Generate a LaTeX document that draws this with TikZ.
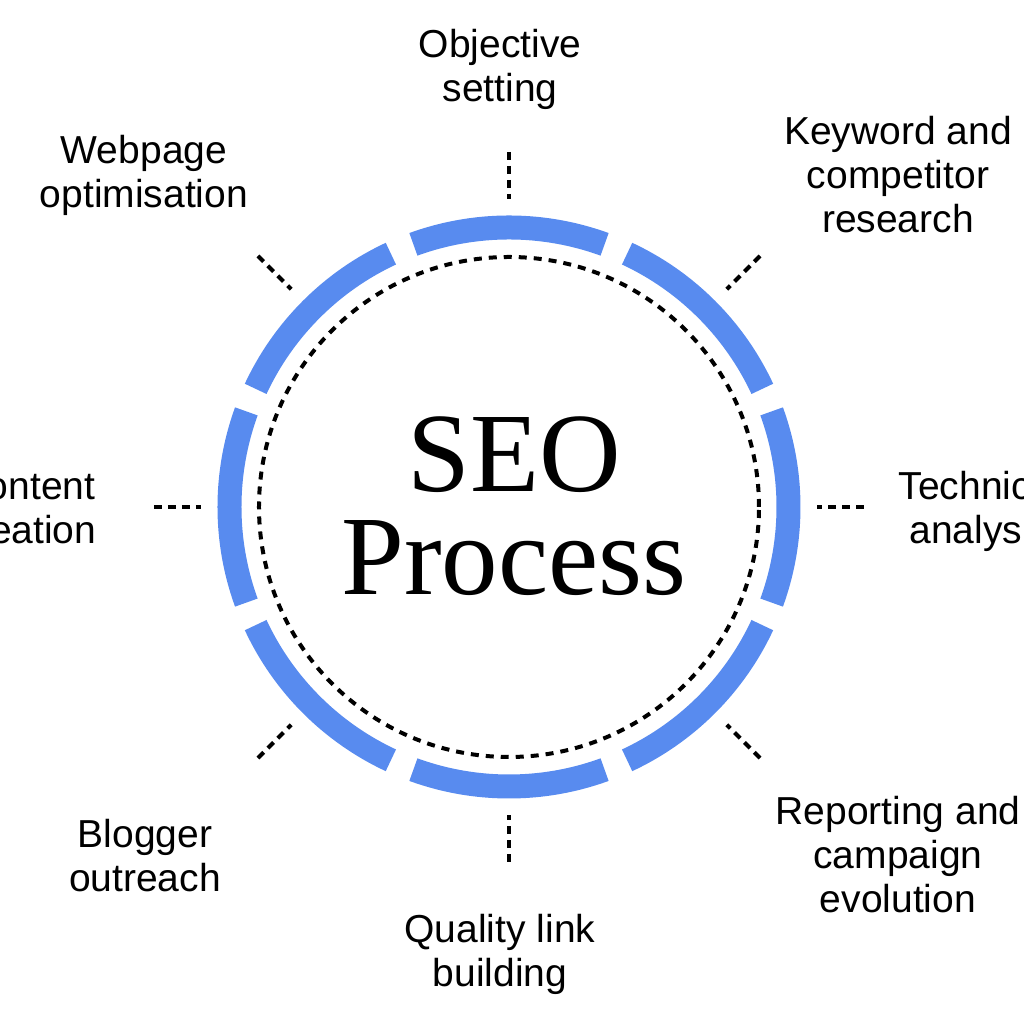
\documentclass[tikz,border=0pt]{standalone}
\usepackage{fontspec}
\setmainfont{Liberation Sans}
\newfontfamily\seofont{Liberation Serif}
\usepackage{tikz}
\usetikzlibrary{calc}
\usetikzlibrary{positioning}
\definecolor{seoblue}{RGB}{88,139,239}
\tikzset{>=latex}
\tikzstyle{seg} = [draw=seoblue, line width=12pt, line cap=butt]
\tikzstyle{tick} = [-, draw=black, line width=2pt, dash pattern=on 4pt off 3pt]
\tikzstyle{ring} = [-, draw=black, line width=2pt, dash pattern=on 4pt off 3.5pt]
\tikzstyle{lbl} = [draw=none, inner sep=0, align=center, anchor=base, font=\fontsize{19.5}{22}\selectfont]

\begin{document}
\begin{tikzpicture}[x=0.5pt, y=0.5pt]
\useasboundingbox (-509,-513) rectangle (515,507);
%\draw [help lines] (-509,-513) rectangle (515,507);
\coordinate (c) at (0,0);
\draw [ring] (c) circle [radius=250];
\draw [seg] (70:279.5) arc [start angle=70, end angle=110, radius=279.5];
\draw [seg] (25:279.5) arc [start angle=25, end angle=65, radius=279.5];
\draw [seg] (-20:279.5) arc [start angle=-20, end angle=20, radius=279.5];
\draw [seg] (-65:279.5) arc [start angle=-65, end angle=-25, radius=279.5];
\draw [seg] (-110:279.5) arc [start angle=-110, end angle=-70, radius=279.5];
\draw [seg] (-155:279.5) arc [start angle=-155, end angle=-115, radius=279.5];
\draw [seg] (160:279.5) arc [start angle=160, end angle=200, radius=279.5];
\draw [seg] (115:279.5) arc [start angle=115, end angle=155, radius=279.5];
\node [draw=none, inner sep=0, align=center, anchor=base, font=\seofont\fontsize{56.5}{51.5}\selectfont] (seo) at (5,-88) {SEO\\Process};
\draw [tick] (90:355) -- (90:308);
\draw [tick] (45:355) -- (45:308);
\draw [tick] (0:355) -- (0:308);
\draw [tick] (-45:355) -- (-45:308);
\draw [tick] (-90:355) -- (-90:308);
\draw [tick] (-135:355) -- (-135:308);
\draw [tick] (180:355) -- (180:308);
\draw [tick] (135:355) -- (135:308);
\node [lbl] (obj) at (-9,405) {Objective\\setting};
\node [lbl] (kwd) at (389,274) {Keyword and\\competitor\\research};
\node [lbl] (tech) at (471,-37) {Technical\\analysis};
\node [lbl] (rep) at (389,-406) {Reporting and\\campaign\\evolution};
\node [lbl] (link) at (-9,-480) {Quality link\\building};
\node [lbl] (blog) at (-364,-385) {Blogger\\outreach};
\node [lbl] (cnt) at (-482,-37) {Content\\creation};
\node [lbl] (web) at (-365,299) {Webpage\\optimisation};
\end{tikzpicture}
\end{document}
